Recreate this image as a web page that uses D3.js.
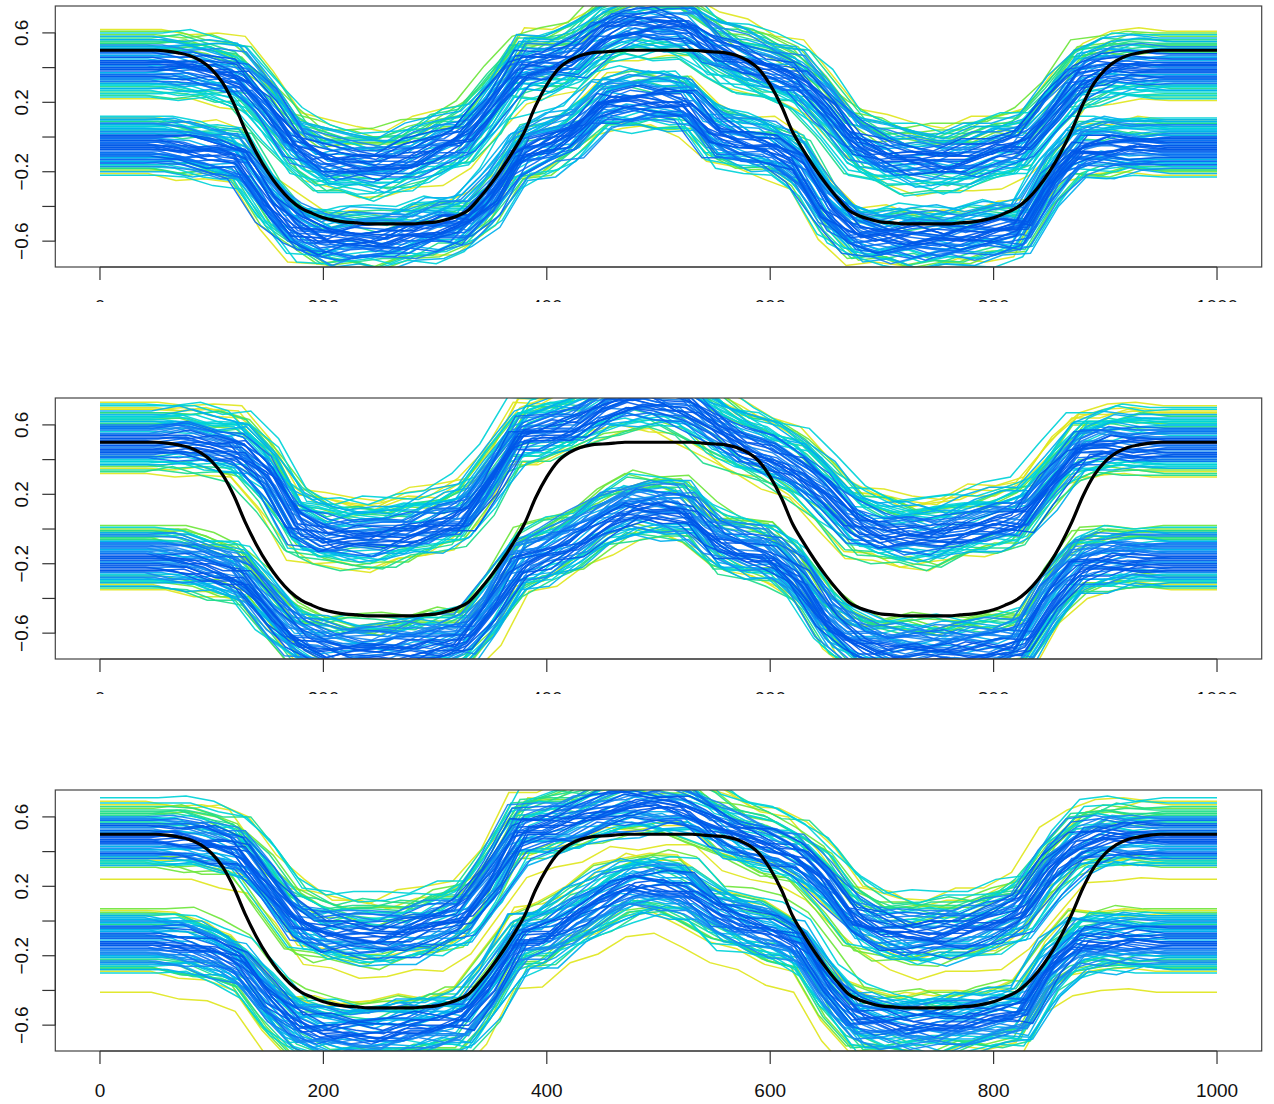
<!DOCTYPE html>
<html>
<head>
<meta charset="utf-8">
<script src="https://cdn.jsdelivr.net/npm/d3@7"></script>
<style>
  body { margin: 0; background: #fff; }
  text { font-family: "Liberation Sans", Arial, sans-serif; font-size: 19px; fill: #111; }
</style>
</head>
<body>
<script>
// ---- data ----
const xTicks = [0, 200, 400, 600, 800, 1000]
const yTicks = [-0.6, -0.4, -0.2, 0, 0.2, 0.4, 0.6]
const yLabelled = [-0.6, -0.2, 0.2, 0.6]

// band shapes sampled every 25 units (0..1000)
const shapeX = d3.range(0, 1001, 25)

// black reference curve, every 10 units
const blackX = d3.range(0, 1001, 10)
const blackY = [
  0.5, 0.5, 0.5, 0.5, 0.5, 0.5, 0.495, 0.485, 0.47, 0.44,
  0.39, 0.31, 0.19, 0.04, -0.09, -0.2, -0.29, -0.36, -0.41, -0.44,
  -0.465, -0.48, -0.49, -0.495, -0.5, -0.5, -0.5, -0.5, -0.5, -0.495,
  -0.49, -0.475, -0.455, -0.42, -0.35, -0.27, -0.18, -0.08, 0.03, 0.18,
  0.3, 0.39, 0.44, 0.47, 0.485, 0.49, 0.495, 0.5, 0.5, 0.5,
  0.5, 0.5, 0.5, 0.5, 0.495, 0.49, 0.485, 0.47, 0.44, 0.39,
  0.3, 0.18, 0.03, -0.08, -0.18, -0.27, -0.35, -0.42, -0.455, -0.475,
  -0.49, -0.495, -0.5, -0.5, -0.5, -0.5, -0.5, -0.495, -0.49, -0.48,
  -0.465, -0.44, -0.41, -0.36, -0.29, -0.2, -0.09, 0.04, 0.19, 0.31,
  0.39, 0.44, 0.47, 0.485, 0.495, 0.5, 0.5, 0.5, 0.5, 0.5,
  0.5
]

const p1UpperShape = [0.41,0.41,0.41,0.40,0.38,0.34,0.18,-0.04,-0.13,-0.15,-0.16,-0.12,-0.06,-0.01,0.18,0.40,0.42,0.46,0.60,0.65,0.65,0.63,0.50,0.44,0.38,0.33,0.17,-0.02,-0.10,-0.13,-0.14,-0.12,-0.08,-0.05,0.14,0.35,0.39,0.40,0.40,0.40,0.40]
const p1LowerShape = [-0.04,-0.04,-0.04,-0.06,-0.08,-0.12,-0.35,-0.52,-0.58,-0.58,-0.58,-0.55,-0.52,-0.50,-0.35,-0.10,-0.04,0.04,0.20,0.22,0.22,0.20,0.02,-0.03,-0.06,-0.15,-0.40,-0.54,-0.57,-0.57,-0.57,-0.56,-0.54,-0.53,-0.25,-0.06,-0.05,-0.05,-0.05,-0.05,-0.05]
const p2UpperShape = [0.52,0.52,0.52,0.52,0.50,0.47,0.32,0.05,-0.02,-0.03,-0.03,0.00,0.04,0.09,0.30,0.55,0.58,0.62,0.72,0.76,0.76,0.72,0.60,0.50,0.44,0.36,0.22,0.06,0.00,-0.02,-0.02,0.02,0.05,0.08,0.28,0.48,0.50,0.50,0.50,0.50,0.50]
const p2LowerShape = [-0.17,-0.17,-0.17,-0.19,-0.22,-0.27,-0.45,-0.62,-0.68,-0.70,-0.70,-0.68,-0.66,-0.64,-0.45,-0.20,-0.14,-0.06,0.05,0.12,0.12,0.10,-0.07,-0.12,-0.15,-0.28,-0.52,-0.64,-0.69,-0.70,-0.70,-0.69,-0.68,-0.66,-0.40,-0.20,-0.18,-0.17,-0.17,-0.17,-0.17]
const p3UpperShape = [0.47,0.47,0.47,0.46,0.44,0.39,0.20,0.00,-0.07,-0.09,-0.10,-0.07,-0.03,0.02,0.23,0.50,0.53,0.57,0.63,0.66,0.66,0.64,0.54,0.47,0.42,0.36,0.22,0.02,-0.06,-0.09,-0.08,-0.06,-0.02,0.05,0.28,0.44,0.47,0.47,0.47,0.47,0.47]
const p3LowerShape = [-0.12,-0.12,-0.12,-0.14,-0.18,-0.26,-0.45,-0.60,-0.64,-0.65,-0.65,-0.62,-0.60,-0.58,-0.38,-0.12,-0.08,0.02,0.12,0.20,0.20,0.17,0.04,-0.02,-0.07,-0.14,-0.38,-0.55,-0.59,-0.60,-0.60,-0.58,-0.56,-0.54,-0.28,-0.12,-0.12,-0.12,-0.12,-0.12,-0.12]

// small wiggles on top of the band shapes
const wiggles = [
  [0,0,0,0.02,0.01,-0.02,0.03,0.01,-0.02,0.02,0.03,-0.01,0.02,-0.03,0.01,0.04,0.02,-0.02,0.01,0.03,-0.01,0.02,0.04,-0.02,0.0,-0.03,0.02,0.01,-0.02,0.03,0.01,-0.01,0.02,-0.03,0.0,0.02,0.01,-0.02,0,0,0],
  [0,0,0,-0.02,0.01,0.03,-0.01,-0.03,0.02,0.0,-0.02,0.03,0.01,-0.01,-0.04,0.02,-0.01,0.03,-0.02,0.0,0.02,-0.03,0.01,0.03,-0.01,0.02,-0.02,-0.03,0.02,0.0,-0.02,0.03,-0.01,0.01,0.04,-0.02,0.01,0.02,0,0,0],
  [0,0,0,0.01,-0.02,0.0,0.02,-0.02,0.03,-0.01,0.01,0.02,-0.03,0.02,0.03,-0.02,0.01,0.0,0.03,-0.02,0.01,0.03,-0.02,0.0,0.02,-0.01,-0.03,0.03,0.01,-0.02,0.02,0.0,-0.03,0.02,-0.02,0.01,-0.01,0.01,0,0,0],
  [0,0,0,0.03,0.0,-0.01,-0.03,0.02,0.01,-0.02,0.0,-0.03,0.03,0.01,0.02,-0.03,0.0,0.02,-0.01,-0.03,0.02,0.01,-0.03,0.02,0.03,0.0,0.03,-0.02,-0.01,0.02,-0.03,0.01,0.03,0.0,-0.02,-0.03,0.02,0.0,0,0,0],
  [0,0,0,-0.01,0.03,0.01,-0.02,0.04,-0.01,0.01,-0.03,0.0,-0.02,0.03,-0.01,0.01,-0.03,0.02,0.02,0.01,-0.03,0.0,0.02,-0.01,0.03,0.01,0.0,-0.02,0.03,-0.03,0.0,-0.02,0.02,0.02,0.01,-0.01,-0.03,0.02,0,0,0],
  [0,0,0,0.0,-0.03,0.02,0.01,-0.01,-0.03,0.03,0.02,-0.02,0.0,0.02,0.03,0.0,0.03,-0.03,-0.02,0.02,0.0,-0.01,0.03,0.01,-0.02,0.03,0.01,0.0,-0.03,0.01,0.03,-0.02,0.0,0.03,0.02,-0.03,0.02,-0.01,0,0,0]
]

// per-curve vertical offsets from the band centre
const p1UpperOffsets = [0.02,-0.11,0.15,-0.04,0.08,-0.17,0.11,0.0,-0.08,0.19,-0.02,0.05,-0.13,0.13,-0.06,0.21,0.03,-0.15,0.09,-0.01,0.17,-0.1,0.06,-0.19,0.12,-0.05,0.01,-0.12,0.16,-0.07,0.04,0.1,-0.03,-0.14,0.07,0.14,-0.09,0.0,0.18,-0.16,0.03,-0.06,0.11,-0.11,0.08,-0.02,0.2,-0.08,0.05,-0.13,0.13,0.02,-0.04,0.09,-0.18,0.15,-0.01,0.06,-0.1,0.12,-0.05,0.01,0.1,-0.07]
const p1LowerOffsets = [-0.03,0.1,-0.14,0.05,-0.08,0.14,0.0,-0.11,0.07,-0.05,0.12,-0.17,0.03,-0.01,0.09,-0.12,0.15,-0.06,0.02,-0.15,0.08,-0.09,0.11,-0.02,0.04,-0.13,0.13,-0.07,0.01,0.06,-0.1,0.16,-0.04,-0.16,0.1,-0.08,0.03,0.12,-0.12,0.0,0.07,-0.05,-0.18,0.09,0.14,-0.02,-0.1,0.05,-0.14,0.11,0.02,-0.07,0.08,-0.11,0.13,-0.03,0.04,-0.09,0.15,-0.06,0.01,-0.13,0.06,-0.01]
const p2UpperOffsets = [0.1,-0.06,0.17,-0.15,0.03,-0.1,0.13,-0.02,0.07,-0.18,0.2,-0.08,0.0,0.11,-0.13,0.05,-0.04,0.15,-0.11,0.08,-0.2,0.02,0.18,-0.07,0.12,-0.16,0.04,-0.01,0.09,-0.12,0.14,-0.05,0.21,-0.09,0.06,-0.14,0.01,0.16,-0.03,0.1,-0.17,0.07,-0.06,0.13,-0.1,0.03,0.19,-0.13,0.0,0.11,-0.08,0.05,-0.19,0.15,-0.02,0.08,-0.11,0.12,-0.04,0.02,0.17,-0.15,0.06,-0.07]
const p2LowerOffsets = [0.05,-0.12,0.14,-0.03,0.09,-0.16,0.01,0.12,-0.07,0.17,-0.1,0.03,-0.15,0.07,-0.01,0.15,-0.13,0.1,-0.05,0.19,-0.08,0.0,0.13,-0.18,0.06,-0.04,0.11,-0.11,0.02,0.16,-0.14,0.08,-0.06,0.04,-0.09,0.14,-0.02,0.18,-0.12,0.06,-0.17,0.1,0.01,-0.07,0.12,-0.1,0.03,-0.14,0.15,-0.03,0.08,-0.05,0.11,-0.16,0.0,0.13,-0.08,0.05,-0.11,0.09,-0.02,0.16,-0.13,0.04]
const p3UpperOffsets = [0.04,-0.09,0.16,-0.02,0.1,-0.14,0.21,0.0,-0.06,0.13,-0.11,0.07,0.24,-0.04,0.02,-0.16,0.11,-0.08,0.18,0.05,-0.13,0.08,-0.01,0.15,-0.1,0.03,-0.23,0.12,-0.05,0.19,0.01,-0.12,0.09,-0.07,0.14,-0.03,0.06,-0.15,0.22,-0.09,0.11,0.0,-0.11,0.17,-0.04,0.07,-0.14,0.13,-0.02,0.04,0.2,-0.08,0.1,-0.12,0.02,0.15,-0.06,0.08,-0.1,0.12,-0.01,0.05,-0.13,0.09]
const p3LowerOffsets = [-0.02,0.11,-0.14,0.06,-0.07,0.15,-0.11,0.02,0.18,-0.05,0.09,-0.16,0.04,-0.01,0.13,-0.09,0.07,-0.18,0.16,-0.03,0.1,-0.12,0.01,-0.29,0.12,-0.06,0.05,-0.15,0.19,-0.08,0.03,0.14,-0.1,0.08,-0.04,-0.17,0.11,0.0,-0.13,0.17,-0.06,0.06,-0.02,0.12,-0.11,0.09,-0.15,0.03,0.15,-0.08,0.0,-0.12,0.1,-0.04,0.07,-0.16,0.13,-0.01,0.04,-0.09,0.16,-0.07,0.08,-0.14]

// per-curve horizontal shifts (x units)
const p1UpperShifts = [2,-6,5,-2,8,-9,0,4,-5,6,-3,10,-7,2,-1,5,-10,3,-4,8,-2,1,-6,7,-8,4,-1,9,-4,3,-7,6,1,-5,7,-3,11,-8,0,5,-10,3,-2,6,-4,9,-6,2,-3,5,-1,8,-9,4,-5,10,-2,1,-7,6,-11,3,4,-4]
const p1LowerShifts = [-4,7,-2,3,-9,5,-6,1,9,-3,5,-7,0,6,-10,3,-1,8,-5,4,-7,2,11,-3,6,-8,1,-5,7,-1,4,-10,2,8,-4,-6,5,-2,10,-8,3,-4,1,7,-9,6,-2,9,-6,0,5,-3,7,-11,2,-5,6,-1,4,-7,2,8,-3,5]
const p2UpperShifts = [6,-3,1,-8,4,-5,10,-1,-7,3,-10,7,2,-4,5,-6,0,9,-2,3,-8,5,-1,11,-5,1,7,-9,4,-3,8,-6,2,-2,9,-7,4,-4,6,-1,-9,3,5,-3,1,-6,10,-5,2,7,-4,0,-10,6,-2,8,-7,3,-1,5,-5,7,-3,1]
const p2LowerShifts = [-1,5,-8,3,7,-4,0,-10,8,-5,2,6,-3,10,-7,4,-1,7,-9,2,5,-4,-2,9,-6,3,1,-11,6,-3,8,-2,4,-7,1,9,-5,-1,6,-8,3,-6,10,0,-4,5,-9,7,-2,3,-7,11,-3,2,-5,7,-10,4,-1,5,-4,2,6,-8]
const p3UpperShifts = [4,-5,1,8,-3,-9,6,-1,3,-7,10,-4,2,-8,5,0,-6,7,-2,9,-10,3,-4,5,1,-8,7,-1,-5,10,-6,2,6,-3,-7,4,-2,8,-9,1,5,-4,11,-6,2,-1,7,-10,3,-5,8,-2,0,-7,9,-3,5,-8,2,6,-1,-6,4,1]
const p3LowerShifts = [-3,6,-7,2,9,-5,0,4,-8,5,-1,8,-10,3,-4,6,-6,2,11,-7,1,-2,7,-4,5,-9,3,-1,9,-6,4,-10,1,7,-3,-5,5,-2,8,-8,2,-5,10,-1,-7,4,-3,6,-9,3,0,7,-4,-6,2,10,-7,5,-1,6,-4,1,8,-3]

// per-curve colour jitter digit and wiggle index
const p1UpperColors = "1203415610271302516401237102143601520314017205130421630127301452"
const p1LowerColors = "0271314025061312041720315120361410273052130241703152602140312075"
const p2UpperColors = "1035201724013612071425301260314720315012640132051702413602513041"
const p2LowerColors = "3102415702136410250173021462013507213041521036142017305213406217"
const p3UpperColors = "2014630171250312041630271530241601275031420163501370214520614013"
const p3LowerColors = "0132514062013751204130621702531430162047125034160271352041036125"

const p1UpperWig = "0315240413520341250314524021354031025143524013201405324103512430"
const p1LowerWig = "2140315204315023512403143205142014302541052134304215031230421504"
const p2UpperWig = "5021342031450213043215102341503210524301431203542150341215034201"
const p2LowerWig = "1432051350241302315042210214355043012534205314103510240312450321"
const p3UpperWig = "3201452015430251023514104321053225041310513240203045211304231505"
const p3LowerWig = "4510234120315430132405210541320152310432140253104320152421540133"

const lineColors = ["#0058e8", "#0a6ef2", "#1888f0", "#00b0ee", "#00d2d8", "#1edc8c", "#6ee63c", "#dfe61e"]
const colorJitter = [-2, 0, 1, 2, -1, 0, 3, 1]

// ---- layout ----
const W = 1274, H = 1104
const panelStep = 392
const box = { left: 55.3, right: 1261.7, top: 6, bottom: 267 }

const x = d3.scaleLinear().domain([-40, 1040]).range([box.left, box.right])
const y = d3.scaleLinear().domain([-0.749, 0.755]).range([box.bottom, box.top])
// distance from the band centre -> colour rank (blue in the middle, yellow at the edges)
const depthRank = d3.scaleQuantize().domain([0, 0.21]).range([0, 1, 2, 3, 4, 5, 6])

const panels = [
  { bands: [
    { shape: p1UpperShape, offsets: p1UpperOffsets, shifts: p1UpperShifts, colors: p1UpperColors, wig: p1UpperWig },
    { shape: p1LowerShape, offsets: p1LowerOffsets, shifts: p1LowerShifts, colors: p1LowerColors, wig: p1LowerWig }
  ], clip: true },
  { bands: [
    { shape: p2UpperShape, offsets: p2UpperOffsets, shifts: p2UpperShifts, colors: p2UpperColors, wig: p2UpperWig },
    { shape: p2LowerShape, offsets: p2LowerOffsets, shifts: p2LowerShifts, colors: p2LowerColors, wig: p2LowerWig }
  ], clip: true },
  { bands: [
    { shape: p3UpperShape, offsets: p3UpperOffsets, shifts: p3UpperShifts, colors: p3UpperColors, wig: p3UpperWig },
    { shape: p3LowerShape, offsets: p3LowerOffsets, shifts: p3LowerShifts, colors: p3LowerColors, wig: p3LowerWig }
  ], clip: false }
]

// one curve = band shape moved by its offset and shift, plus its wiggle
function curvePoints(shape, off, shift, wig) {
  const pts = [[0, shape[0] + off]]
  shape.forEach(function(v, i) {
    const px = shapeX[i] + shift
    if (px > 0 && px < 1000) pts.push([px, v + off + wig[i]])
  })
  pts.push([1000, shape[shape.length - 1] + off])
  return pts
}

const svg = d3.select("body").append("svg")
    .attr("width", W)
    .attr("height", H)

const defs = svg.append("defs")
defs.append("clipPath").attr("id", "plotclip")
  .append("rect")
    .attr("x", box.left).attr("y", box.top)
    .attr("width", box.right - box.left).attr("height", box.bottom - box.top)
defs.append("clipPath").attr("id", "panelclip")
  .append("rect")
    .attr("x", 0).attr("y", 0)
    .attr("width", W).attr("height", 302)

const thinLine = d3.line()
    .x(function(d) { return x(d[0]) })
    .y(function(d) { return y(d[1]) })

const smoothLine = d3.line()
    .x(function(d) { return x(d[0]) })
    .y(function(d) { return y(d[1]) })
    .curve(d3.curveMonotoneX)

panels.forEach(function(p, k) {
  const outer = svg.append("g").attr("transform", "translate(0," + (k * panelStep) + ")")
  const g = outer.append("g")
  if (p.clip) g.attr("clip-path", "url(#panelclip)")

  const plot = g.append("g").attr("clip-path", "url(#plotclip)")

  let curves = []
  p.bands.forEach(function(b) {
    b.offsets.forEach(function(off, i) {
      const ci = Math.max(0, Math.min(7, depthRank(Math.abs(off)) + colorJitter[+b.colors[i]]))
      curves.push({
        pts: curvePoints(b.shape, off, b.shifts[i], wiggles[+b.wig[i]]),
        ci: ci
      })
    })
  })
  // outer (yellow/green) curves underneath, blue ones on top
  curves.sort(function(a, b) { return b.ci - a.ci })

  plot.selectAll(null)
    .data(curves)
    .enter()
    .append("path")
      .attr("d", function(d) { return thinLine(d.pts) })
      .attr("fill", "none")
      .attr("stroke", function(d) { return lineColors[d.ci] })
      .attr("stroke-width", 1.5)
      .attr("stroke-opacity", 0.92)

  plot.append("path")
    .attr("d", smoothLine(blackX.map(function(v, i) { return [v, blackY[i]] })))
    .attr("fill", "none")
    .attr("stroke", "#000")
    .attr("stroke-width", 3.2)

  // box
  g.append("rect")
    .attr("x", box.left).attr("y", box.top)
    .attr("width", box.right - box.left).attr("height", box.bottom - box.top)
    .attr("fill", "none")
    .attr("stroke", "#444")
    .attr("stroke-width", 1.2)

  // x axis
  g.append("line")
    .attr("x1", x(xTicks[0])).attr("x2", x(xTicks[xTicks.length - 1]))
    .attr("y1", box.bottom).attr("y2", box.bottom)
    .attr("stroke", "#333").attr("stroke-width", 1.2)
  g.selectAll(".xt").data(xTicks).enter().append("line")
    .attr("x1", function(d) { return x(d) }).attr("x2", function(d) { return x(d) })
    .attr("y1", box.bottom).attr("y2", box.bottom + 13)
    .attr("stroke", "#333").attr("stroke-width", 1.2)
  g.selectAll(".xl").data(xTicks).enter().append("text")
    .attr("x", function(d) { return x(d) })
    .attr("y", box.bottom + 46)
    .attr("text-anchor", "middle")
    .text(function(d) { return d })

  // y axis
  g.append("line")
    .attr("x1", box.left).attr("x2", box.left)
    .attr("y1", y(yTicks[0])).attr("y2", y(yTicks[yTicks.length - 1]))
    .attr("stroke", "#333").attr("stroke-width", 1.2)
  g.selectAll(".yt").data(yTicks).enter().append("line")
    .attr("x1", box.left - 13).attr("x2", box.left)
    .attr("y1", function(d) { return y(d) }).attr("y2", function(d) { return y(d) })
    .attr("stroke", "#333").attr("stroke-width", 1.2)
  g.selectAll(".yl").data(yLabelled).enter().append("text")
    .attr("transform", function(d) { return "translate(28," + y(d) + ") rotate(-90)" })
    .attr("text-anchor", "middle")
    .text(function(d) { return d3.format(".1f")(d) })
})
</script>
</body>
</html>
